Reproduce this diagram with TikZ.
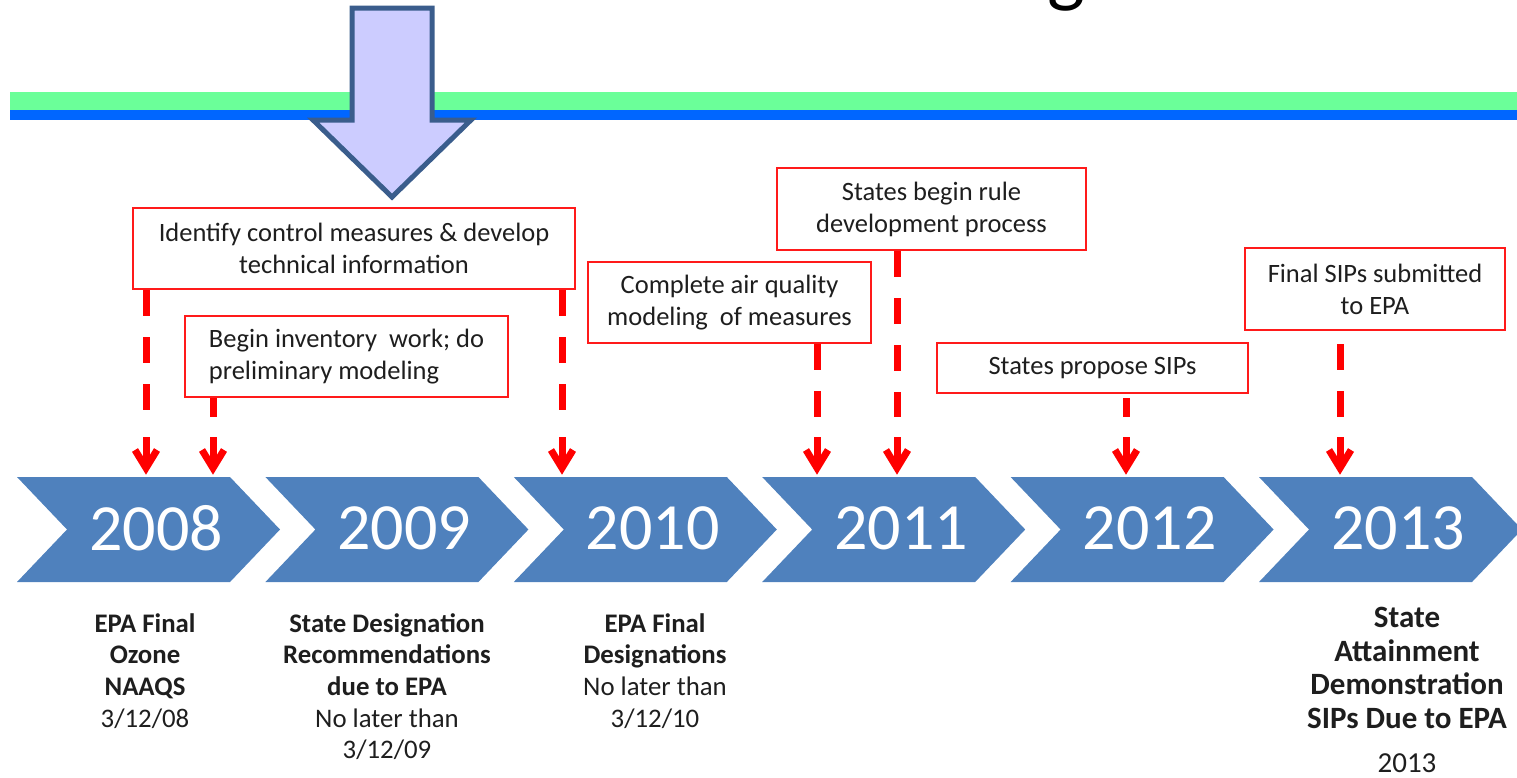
\documentclass[tikz,border=0pt]{standalone}
\usepackage{fontspec}
\setmainfont{Carlito}
\usetikzlibrary{calc}
\definecolor{barGreen}{HTML}{6BFF99}
\definecolor{barBlue}{HTML}{0066FF}
\definecolor{arrFill}{HTML}{CCCCFF}
\definecolor{arrLine}{HTML}{3A5D8C}
\definecolor{chev}{HTML}{4F81BD}
\definecolor{boxRed}{HTML}{FF1A1A}
\definecolor{txt}{HTML}{1E1E1E}
\newcommand\tlarrow[2]{%
  \draw[dashline] (#1) -- ($(#2)+(0,-58)$);
  \draw[headline] ($(#2)+(0,-38)$) -- ($(#2)+(0,-8)$);
  \draw[headline] ($(#2)+(-11,-25)$) -- ($(#2)+(0,-7)$) -- ($(#2)+(11,-25)$);
}
\begin{document}
\begin{tikzpicture}[x=1pt,y=-1pt,
  redbox/.style={draw=boxRed, line width=2.2pt, fill=white, inner sep=0pt, text=txt,
    font=\fontsize{26.5}{32}\selectfont, align=center},
  chevron/.style={fill=chev},
  year/.style={text=white, inner sep=0pt, font=\fontsize{66}{70}\selectfont},
  dashline/.style={draw=red, line width=7pt, dash pattern=on 26pt off 21pt},
  headline/.style={draw=red, line width=7pt, line join=miter},
  note/.style={align=center, text=txt, inner sep=0pt, font=\fontsize{26.8}{31.7}\selectfont},
]
\clip (0,0) rectangle (1517,777);
\useasboundingbox (0,0) rectangle (1517,777);

% cropped title glyph
\node[anchor=base, inner sep=0pt, text=black, font=\fontsize{80}{80}\selectfont] (ttl) at (1066,-3) {g};

% bars
\fill[barGreen] (10,92) rectangle (1517,110);
\fill[barBlue] (10,110) rectangle (1517,120);

% big arrow
\draw[draw=arrLine, fill=arrFill, line width=5pt, line join=miter]
  (352,8) -- (432,8) -- (432,120) -- (471,120) -- (392,197) -- (313,120) -- (352,120) -- cycle;

% chevrons
\foreach \k/\yr in {0/2008,1/2009,2/2010,3/2011,4/2012,5/2013}{
  \pgfmathsetmacro{\L}{17+248.4*\k}
  \fill[chevron] (\L,477) -- ({\L+213},477) -- ({\L+263},529.5) -- ({\L+213},582) -- (\L,582) -- ({\L+50},529.5) -- cycle;
  \node[year] (y\yr) at ({\L+139},528) {\yr};
}

% boxes
\node[redbox, minimum width=442pt, minimum height=81pt] (b1) at (354,248.5)
  {Identify control measures \& develop\\technical information};
\node[redbox, minimum width=323pt, minimum height=81pt, align=left] (b2) at (346.5,356.5)
  {Begin inventory\ \ work; do\\preliminary modeling};
\node[redbox, minimum width=283pt, minimum height=81pt] (b3) at (729.5,302.5)
  {Complete air quality\\modeling\ \ of measures};
\node[redbox, minimum width=309pt, minimum height=82pt] (b4) at (931.5,209)
  {States begin rule\\development process};
\node[redbox, minimum width=311pt, minimum height=50pt] (b5) at (1092.5,368)
  {States propose SIPs};
\node[redbox, minimum width=260pt, minimum height=82pt] (b6) at (1375,289)
  {Final SIPs submitted\\to EPA};

% arrow targets
\coordinate (t1) at (146,475);
\coordinate (t2) at (213,475);
\coordinate (t3) at (562,475);
\coordinate (t4) at (817,475);
\coordinate (t5) at (897,475);
\coordinate (t6) at (1126,475);
\coordinate (t7) at (1340,475);

\tlarrow{b1.south -| t1}{t1}
\tlarrow{b2.south -| t2}{t2}
\tlarrow{b1.south -| t3}{t3}
\tlarrow{b3.south -| t4}{t4}
\tlarrow{b4.south -| t5}{t5}
\tlarrow{$(b5.south -| t6)+(0,4)$}{t6}
\tlarrow{$(b6.south -| t7)+(0,13)$}{t7}

% bottom notes
\node[note, anchor=north] (n1) at (145,613)
  {\textbf{EPA Final}\\\textbf{Ozone}\\\textbf{NAAQS}\\3/12/08};
\node[note, anchor=north] (n2) at (387,613)
  {\textbf{State Designation}\\\textbf{Recommendations}\\\textbf{due to EPA}\\No later than\\3/12/09};
\node[note, anchor=north] (n3) at (655,613)
  {\textbf{EPA Final}\\\textbf{Designations}\\No later than\\3/12/10};
\node[note, anchor=north, font=\bfseries\fontsize{31}{33.5}\selectfont] (n4) at (1407,607)
  {State\\Attainment\\Demonstration\\SIPs Due to EPA};
\node[note, anchor=base, font=\fontsize{29}{33}\selectfont] (n5) at (1407,772) {2013};
\end{tikzpicture}
\end{document}
